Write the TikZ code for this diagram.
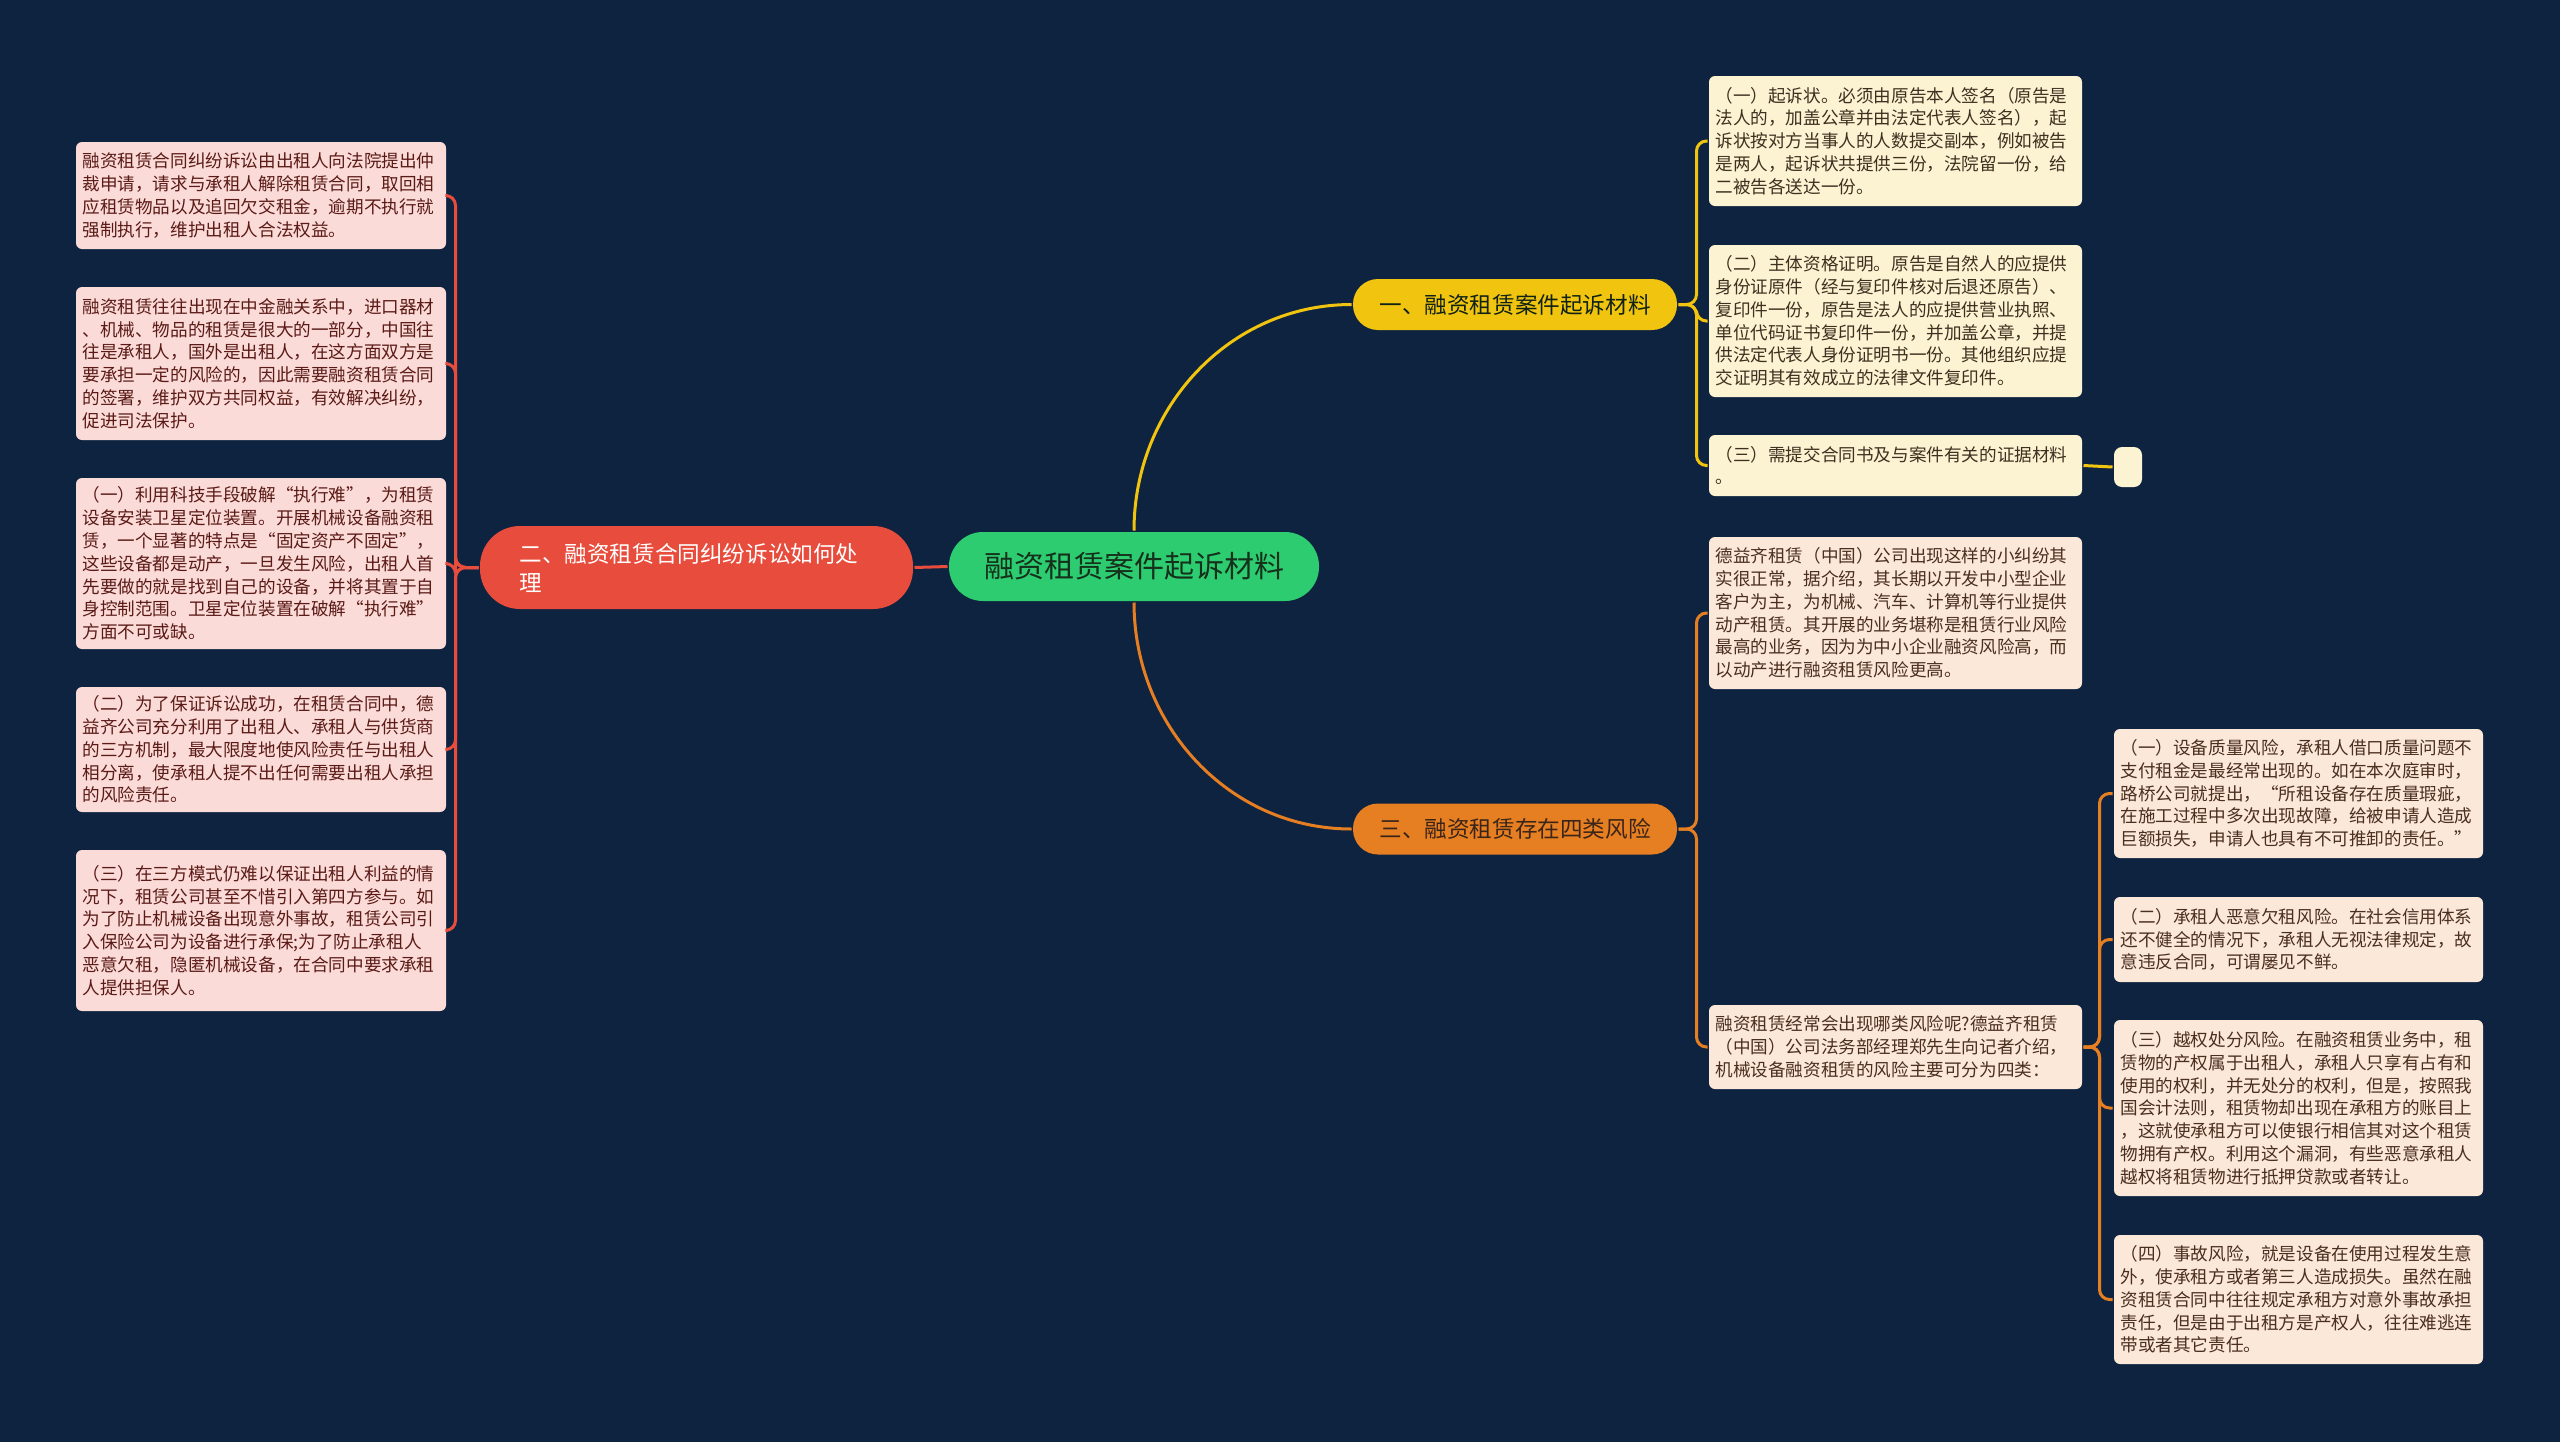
\documentclass[tikz,border=0pt]{standalone}
\usepackage{fontspec}
\setmainfont{Noto Sans CJK SC}
\definecolor{bgnavy}{HTML}{0E2340}
\definecolor{rootgreen}{HTML}{2ECC71}
\definecolor{rootink}{HTML}{15311C}
\definecolor{brYellow}{HTML}{F1C40F}
\definecolor{brRed}{HTML}{E74C3C}
\definecolor{brOrange}{HTML}{E67E22}
\definecolor{creamLeaf}{HTML}{FCF3D2}
\definecolor{peachLeaf}{HTML}{FBE8D9}
\definecolor{pinkLeaf}{HTML}{FADBD8}
\definecolor{creamInk}{HTML}{3E3020}
\definecolor{peachInk}{HTML}{4A2E1E}
\definecolor{pinkInk}{HTML}{5B1A16}

\tikzset{every path/.style={line width=1.5pt}}
\tikzset{
  rootbox/.style={rounded corners=17pt,fill=rootgreen,text=rootink,inner sep=0pt,
    minimum width=185pt,minimum height=34.5pt,font=\fontsize{15pt}{18pt}\selectfont},
  branchbox/.style={rounded corners=12.5pt,inner sep=0pt,minimum width=162pt,
    minimum height=25.5pt,font=\fontsize{11.3pt}{14pt}\selectfont},
  leafbox/.style={rounded corners=3pt,inner xsep=3.25pt,inner ysep=0pt,text width=180pt,
    align=left,minimum width=186.5pt,font=\fontsize{8.8pt}{11.4pt}\selectfont},
  creamleaf/.style={leafbox,fill=creamLeaf,text=creamInk},
  peachleaf/.style={leafbox,fill=peachLeaf,text=peachInk},
  pinkleaf/.style={leafbox,fill=pinkLeaf,text=pinkInk,text width=178.5pt,minimum width=185pt},
  yline/.style={draw=brYellow,rounded corners=5pt},
  oline/.style={draw=brOrange,rounded corners=5pt},
  rline/.style={draw=brRed,rounded corners=5pt}
}

\begin{document}
\begin{tikzpicture}[x=0.5pt,y=-0.5pt]
  \useasboundingbox (0,0) rectangle (2560,1441);
  \fill[bgnavy] (-20,-20) rectangle (2580,1461);

  % centre and branches
  \node[rootbox] (root) at (1134,566.5) {融资租赁案件起诉材料};
  \node[branchbox,fill=brYellow,text=rootink!70!black] (b1) at (1515,304.5) {一、融资租赁案件起诉材料};
  \node[branchbox,fill=brOrange,text=peachInk!80!black] (b3) at (1515,829) {三、融资租赁存在四类风险};
  \node[branchbox,fill=brRed,text=white,rounded corners=20pt,minimum width=216.5pt,
    minimum height=41.5pt,text width=177pt,align=left,
    font=\fontsize{11.3pt}{14.5pt}\selectfont] (b2) at (696.5,567.5)
    {二、融资租赁合同纠纷诉讼如何处\\理};

  % branch one
  \node[creamleaf,minimum height=65pt] (l1a) at (1895.5,141) {（一）起诉状。必须由原告本人签名（原告是\\法人的，加盖公章并由法定代表人签名），起\\诉状按对方当事人的人数提交副本，例如被告\\是两人，起诉状共提供三份，法院留一份，给\\二被告各送达一份。};
  \node[creamleaf,minimum height=76pt] (l1b) at (1895.5,321) {（二）主体资格证明。原告是自然人的应提供\\身份证原件（经与复印件核对后退还原告）、\\复印件一份，原告是法人的应提供营业执照、\\单位代码证书复印件一份，并加盖公章，并提\\供法定代表人身份证明书一份。其他组织应提\\交证明其有效成立的法律文件复印件。};
  \node[creamleaf,minimum height=30.5pt] (l1c) at (1895.5,465.5) {（三）需提交合同书及与案件有关的证据材料\\。};
  \node[rounded corners=4pt,fill=creamLeaf,inner sep=0pt,minimum width=14pt,
    minimum height=20pt] (blank) at (2128,467) {};

  % branch three
  \node[peachleaf,minimum height=76pt] (l3a) at (1895.5,613) {德益齐租赁（中国）公司出现这样的小纠纷其\\实很正常，据介绍，其长期以开发中小型企业\\客户为主，为机械、汽车、计算机等行业提供\\动产租赁。其开展的业务堪称是租赁行业风险\\最高的业务，因为为中小企业融资风险高，而\\以动产进行融资租赁风险更高。};
  \node[peachleaf,minimum height=42pt] (l3b) at (1895.5,1047) {融资租赁经常会出现哪类风险呢?德益齐租赁\\（中国）公司法务部经理郑先生向记者介绍，\\机械设备融资租赁的风险主要可分为四类：};
  \node[peachleaf,minimum width=184.5pt,text width=178pt,minimum height=64.5pt] (s1) at (2298.5,793.5) {（一）设备质量风险，承租人借口质量问题不\\支付租金是最经常出现的。如在本次庭审时，\\路桥公司就提出，“所租设备存在质量瑕疵，\\在施工过程中多次出现故障，给被申请人造成\\巨额损失，申请人也具有不可推卸的责任。”};
  \node[peachleaf,minimum width=184.5pt,text width=178pt,minimum height=42.5pt] (s2) at (2298.5,939.5) {（二）承租人恶意欠租风险。在社会信用体系\\还不健全的情况下，承租人无视法律规定，故\\意违反合同，可谓屡见不鲜。};
  \node[peachleaf,minimum width=184.5pt,text width=178pt,minimum height=88pt] (s3) at (2298.5,1108) {（三）越权处分风险。在融资租赁业务中，租\\赁物的产权属于出租人，承租人只享有占有和\\使用的权利，并无处分的权利，但是，按照我\\国会计法则，租赁物却出现在承租方的账目上\\，这就使承租方可以使银行相信其对这个租赁\\物拥有产权。利用这个漏洞，有些恶意承租人\\越权将租赁物进行抵押贷款或者转让。};
  \node[peachleaf,minimum width=184.5pt,text width=178pt,minimum height=64.5pt] (s4) at (2298.5,1299.5) {（四）事故风险，就是设备在使用过程发生意\\外，使承租方或者第三人造成损失。虽然在融\\资租赁合同中往往规定承租方对意外事故承担\\责任，但是由于出租方是产权人，往往难逃连\\带或者其它责任。};

  % branch two
  \node[pinkleaf,minimum height=53.5pt] (p1) at (261,195.5) {融资租赁合同纠纷诉讼由出租人向法院提出仲\\裁申请，请求与承租人解除租赁合同，取回相\\应租赁物品以及追回欠交租金，逾期不执行就\\强制执行，维护出租人合法权益。};
  \node[pinkleaf,minimum height=76.5pt] (p2) at (261,363.5) {融资租赁往往出现在中金融关系中，进口器材\\、机械、物品的租赁是很大的一部分，中国往\\往是承租人，国外是出租人，在这方面双方是\\要承担一定的风险的，因此需要融资租赁合同\\的签署，维护双方共同权益，有效解决纠纷，\\促进司法保护。};
  \node[pinkleaf,minimum height=85.5pt] (p3) at (261,563.5) {（一）利用科技手段破解“执行难”，为租赁\\设备安装卫星定位装置。开展机械设备融资租\\赁，一个显著的特点是“固定资产不固定”，\\这些设备都是动产，一旦发生风险，出租人首\\先要做的就是找到自己的设备，并将其置于自\\身控制范围。卫星定位装置在破解“执行难”\\方面不可或缺。};
  \node[pinkleaf,minimum height=62.5pt] (p4) at (261,749.5) {（二）为了保证诉讼成功，在租赁合同中，德\\益齐公司充分利用了出租人、承租人与供货商\\的三方机制，最大限度地使风险责任与出租人\\相分离，使承租人提不出任何需要出租人承担\\的风险责任。};
  \node[pinkleaf,minimum height=80.5pt] (p5) at (261,930.5) {（三）在三方模式仍难以保证出租人利益的情\\况下，租赁公司甚至不惜引入第四方参与。如\\为了防止机械设备出现意外事故，租赁公司引\\入保险公司为设备进行承保;为了防止承租人\\恶意欠租，隐匿机械设备，在合同中要求承租\\人提供担保人。};

  % spines
  \coordinate (sp1) at ([xshift=9pt]b1.east);
  \coordinate (sp2) at ([xshift=-11.5pt]b2.west);
  \coordinate (sp3) at ([xshift=9pt]b3.east);
  \coordinate (sp4) at ([xshift=8pt]l3b.east);

  % connectors
  \draw[draw=brRed] (root.west) -- (b2.east);
  \draw[draw=brYellow] (root.north) to[out=90,in=180] (b1.west);
  \draw[draw=brOrange] (root.south) to[out=-90,in=180] (b3.west);
  \foreach \c in {l1a,l1b,l1c}
    \draw[yline] (b1.east) -| (sp1 |- \c.west) -- (\c.west);
  \draw[draw=brYellow] (l1c.east) -- (blank.west);
  \foreach \c in {l3a,l3b}
    \draw[oline] (b3.east) -| (sp3 |- \c.west) -- (\c.west);
  \foreach \c in {s1,s2,s3,s4}
    \draw[oline] (l3b.east) -| (sp4 |- \c.west) -- (\c.west);
  \foreach \c in {p1,p2,p3,p4,p5}
    \draw[rline] (b2.west) -| (sp2 |- \c.east) -- (\c.east);
\end{tikzpicture}
\end{document}
